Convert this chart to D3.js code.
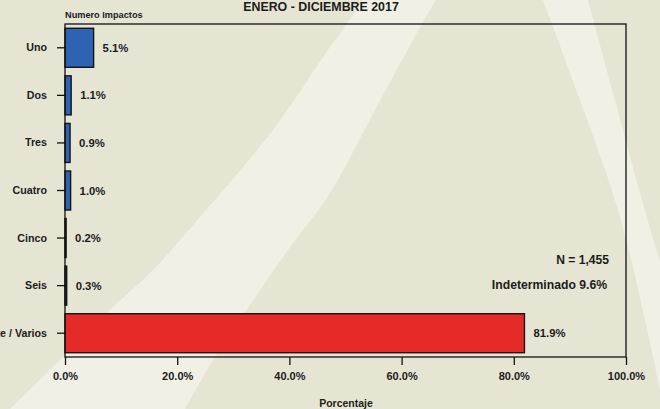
<!DOCTYPE html>
<html>
<head>
<meta charset="utf-8">
<script src="https://cdn.jsdelivr.net/npm/d3@7"></script>
<style>
  html, body { margin: 0; padding: 0; background: #E6E5D3; }
  svg { display: block; }
  text { font-family: "Liberation Sans", Arial, sans-serif; font-weight: bold; fill: #1c1c1c; }
</style>
</head>
<body>
<svg id="chart" width="660" height="409"></svg>
<script>
// Number of impacts per incident, share of the total (%)
const categories = ["Uno", "Dos", "Tres", "Cuatro", "Cinco", "Seis", "Siete / Varios"];
const values = [5.1, 1.1, 0.9, 1.0, 0.2, 0.3, 81.9];
const barColors = ["#2E63B1", "#2E63B1", "#2E63B1", "#2E63B1", "#2E63B1", "#2E63B1", "#E62A28"];
const xTicks = [0, 20, 40, 60, 80, 100];
const title = "ENERO - DICIEMBRE 2017";
const yTitle = "Numero Impactos";
const xTitle = "Porcentaje";
const notes = ["N = 1,455", "Indeterminado 9.6%"];

const W = 660, H = 409;
const m = { top: 24, right: 34, bottom: 52, left: 65 };
const svg = d3.select("#chart");

// Decorative background: soft light sweeps across the beige page
const bg = svg.append("g");
bg.append("rect").attr("width", W).attr("height", H).attr("fill", "#E6E5D3");
const edge = d3.line().curve(d3.curveCatmullRom.alpha(0.5));
function sweep(a, b) {
  // a: one edge top→bottom, b: other edge top→bottom
  const pb = edge(b.slice().reverse());
  return edge(a) + "L" + pb.slice(1) + "Z";
}
const sweeps = [
  sweep([[362,0],[347,24],[330,47],[273,130],[200,217],[153,270],[113,307],[60,360],[10,409]],
        [[436,0],[422,24],[375,110],[330,193],[288,250],[250,305],[213,360],[185,409]]),
  sweep([[543,0],[580,100],[618,210],[645,320],[660,390]],
        [[588,0],[615,100],[642,200],[660,262]])
];
sweeps.forEach(d => bg.append("path").attr("d", d).attr("fill", "#F0F0E4"));

const x = d3.scaleLinear().domain([0, 100]).range([m.left, W - m.right]);
const y = d3.scaleBand().domain(categories).range([m.top, H - m.bottom])
  .paddingInner(0.18).paddingOuter(0.09);

// Bars
svg.append("g").selectAll("rect").data(values).join("rect")
  .attr("x", x(0))
  .attr("y", (d, i) => y(categories[i]))
  .attr("width", d => x(d) - x(0))
  .attr("height", y.bandwidth())
  .attr("fill", (d, i) => barColors[i])
  .attr("stroke", "#151515")
  .attr("stroke-width", 1.4);

// Value labels
svg.append("g").selectAll("text").data(values).join("text")
  .attr("x", d => x(d) + 9)
  .attr("y", (d, i) => y(categories[i]) + y.bandwidth() / 2)
  .attr("dy", "0.36em")
  .attr("font-size", 11.3)
  .text(d => d.toFixed(1) + "%");

// Plot frame
svg.append("rect")
  .attr("x", x(0)).attr("y", m.top)
  .attr("width", x(100) - x(0)).attr("height", H - m.bottom - m.top)
  .attr("fill", "none").attr("stroke", "#111").attr("stroke-width", 1.3);

// Axes
const yAxis = svg.append("g").attr("transform", `translate(${m.left},0)`)
  .call(d3.axisLeft(y).tickSize(8).tickPadding(10));
yAxis.select(".domain").remove();
yAxis.selectAll("line").attr("stroke", "#111").attr("stroke-width", 1.3);
yAxis.selectAll("text").attr("font-size", 10.7).attr("font-family", null).attr("fill", null);

const xAxis = svg.append("g").attr("transform", `translate(0,${H - m.bottom})`)
  .call(d3.axisBottom(x).tickValues(xTicks).tickSize(8).tickPadding(7)
    .tickFormat(d => d.toFixed(1) + "%"));
xAxis.select(".domain").remove();
xAxis.selectAll("line").attr("stroke", "#111").attr("stroke-width", 1.3);
xAxis.selectAll("text").attr("font-size", 11).attr("font-family", null).attr("fill", null);

// Titles
svg.append("text").attr("x", 321).attr("y", 11).attr("text-anchor", "middle")
  .attr("font-size", 12.4).text(title);
svg.append("text").attr("x", m.left).attr("y", 18).attr("font-size", 9.2).text(yTitle);
svg.append("text").attr("x", 346).attr("y", 407).attr("text-anchor", "middle")
  .attr("font-size", 10.5).text(xTitle);

// Sample notes
svg.append("text").attr("x", 609).attr("y", 264).attr("text-anchor", "end")
  .attr("font-size", 12.1).text(notes[0]);
svg.append("text").attr("x", 607).attr("y", 289).attr("text-anchor", "end")
  .attr("font-size", 12.2).text(notes[1]);
</script>
</body>
</html>
